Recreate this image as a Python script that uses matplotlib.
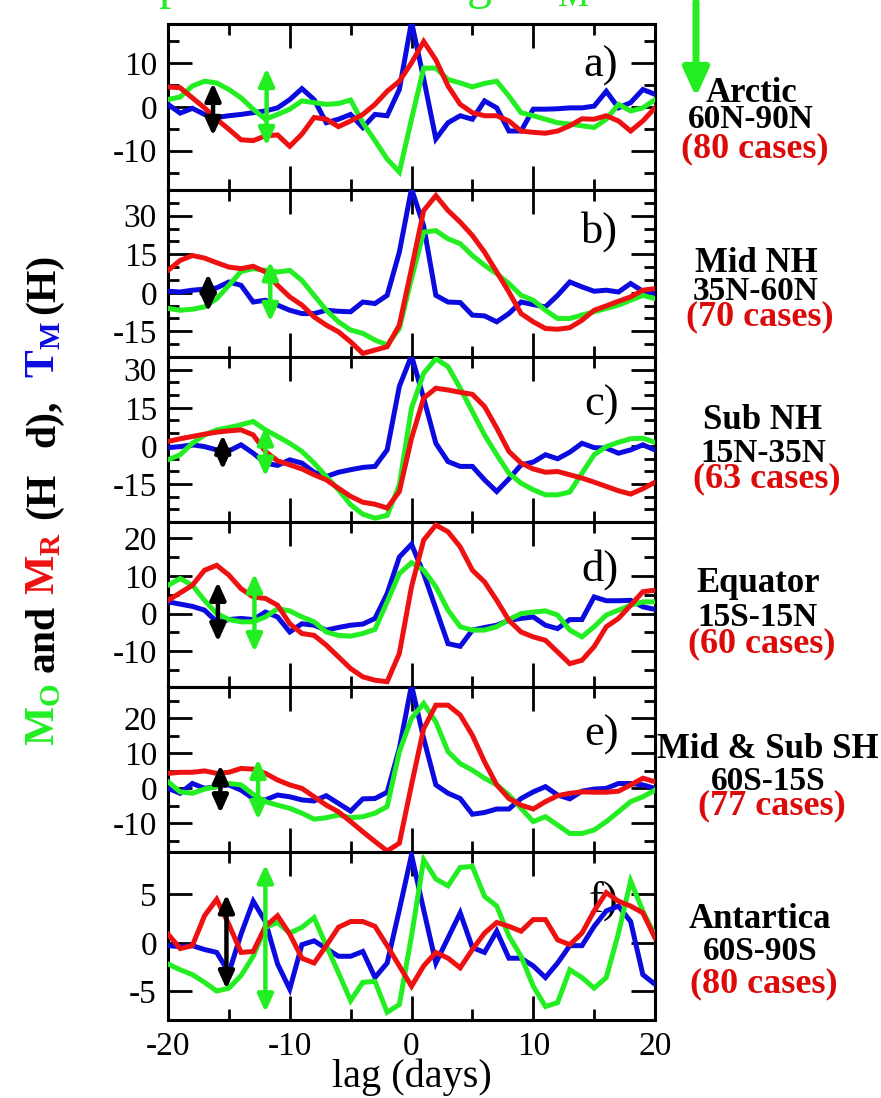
import numpy as np
import matplotlib
matplotlib.use("Agg")
import matplotlib.pyplot as plt
from matplotlib.ticker import MultipleLocator, FixedLocator, NullLocator
from matplotlib.patches import FancyArrowPatch

plt.rcParams["font.family"] = ["Liberation Serif", "DejaVu Serif"]
plt.rcParams["axes.unicode_minus"] = False

# ---------------------------------------------------------------- data
lag = np.arange(-20, 21)

# a) Arctic 60N-90N
arctic_tm = [0.6, -1.4, -0.3, -1.7, -2.4, -2.0, -1.7, -1.3, -0.9, -0.2, 1.7, 4.2, 1.7, -3.6,
             -2.8, -1.7, -4.7, -1.7, -2.0, 4.0, 19.5, 6.5, -7.3, -3.6, -2.0, -2.8, 1.4, -0.2,
             -5.5, -5.5, -0.5, -0.5, -0.4, -0.2, -0.2, 0.2, 3.6, -0.2, 1.0, 4.0, 2.9]
arctic_mo = [1.7, 2.3, 4.8, 5.9, 5.5, 4.0, 2.1, -0.5, -2.8, -1.7, -0.5, 1.4, 1.0, 0.6,
             0.8, 1.6, -3.6, -7.7, -11.9, -14.9, -2.8, 8.9, 8.9, 6.3, 5.5, 4.6, 5.4, 5.9,
             2.5, -1.3, -2.0, -2.8, -3.6, -3.9, -4.3, -4.7, -2.8, 0.6, -0.9, -0.2, 1.7]
arctic_mr = [4.6, 4.4, 2.1, -0.2, -2.8, -5.1, -7.5, -7.7, -6.6, -6.4, -9.0, -6.2, -2.4, -2.8,
             -4.5, -3.2, -1.7, 0.6, 3.6, 5.9, 10.1, 15.0, 10.8, 4.8, 0.6, -1.3, -2.0, -2.0,
             -3.2, -5.5, -5.8, -6.0, -5.5, -4.3, -2.7, -2.8, -2.0, -3.2, -5.5, -3.2, -0.2]

# b) Mid NH 35N-60N
midnh_tm = [0.6, 0.3, 1.0, 1.4, 1.9, 4.2, 2.9, -3.6, -2.9, -4.8, -6.8, -8.1, -8.1, -6.8,
            -7.2, -7.4, -3.6, -4.2, -1.0, 15.8, 40.5, 26.0, -1.0, -3.6, -3.8, -8.7, -9.0, -11.3,
            -8.1, -3.6, -4.6, -5.5, -1.0, 4.2, 2.3, 0.6, 1.0, 0.3, 3.6, 0.6, -0.3]
midnh_mo = [-6.1, -6.8, -6.4, -5.5, -2.3, 2.9, 8.3, 9.4, 8.7, 8.1, 8.7, 4.8, -1.0, -6.8,
            -11.3, -14.5, -15.8, -18.4, -20.3, -13.9, 5.5, 23.6, 24.2, 21.0, 19.1, 14.5, 10.7, 7.4,
            3.6, -1.0, -2.9, -6.8, -10.0, -10.0, -8.7, -7.4, -6.1, -4.8, -2.9, -1.0, -2.3]
midnh_mr = [8.7, 12.6, 14.5, 13.5, 11.7, 10.0, 9.4, 10.3, 8.1, 2.9, -1.6, -4.8, -9.4, -12.6,
            -15.2, -19.1, -23.6, -22.3, -21.0, -12.6, 9.4, 32.0, 37.8, 32.0, 27.5, 22.3, 15.8, 8.1,
            0.3, -8.1, -11.3, -13.9, -14.2, -13.6, -10.7, -6.8, -5.1, -3.3, -1.6, 1.0, 1.6]

# c) Sub NH 15N-35N
subnh_tm = [-0.7, -0.3, 0.4, -0.3, -1.6, -2.0, 0.4, -2.9, -6.8, -7.7, -5.5, -6.8, -10.4, -12.1,
            -10.4, -9.4, -8.5, -8.1, -1.6, 23.4, 35.5, 18.8, 1.0, -6.2, -8.1, -8.1, -13.4, -18.0,
            -13.0, -7.5, -6.4, -3.5, -5.1, -2.5, 1.0, -0.7, -0.9, -2.9, -1.6, 0.4, -1.6]
subnh_mo = [-5.5, -3.5, 1.0, 4.3, 6.3, 7.2, 8.3, 9.6, 6.3, 3.7, 1.0, -2.2, -6.8, -12.1,
            -17.3, -23.2, -26.9, -28.5, -27.4, -15.4, 14.8, 28.6, 34.3, 31.2, 22.7, 13.5, 4.3, -3.5,
            -10.8, -14.7, -17.3, -19.3, -19.3, -18.2, -10.8, -3.5, -0.3, 1.4, 2.8, 3.0, 1.4]
subnh_mr = [1.7, 2.8, 3.7, 4.6, 5.4, 5.9, 6.3, 4.3, -2.2, -5.9, -7.5, -9.1, -11.4, -13.4,
            -16.7, -19.9, -22.2, -23.0, -24.5, -18.0, 3.0, 18.8, 22.7, 22.0, 21.1, 20.3, 15.5, 7.0,
            -2.2, -6.8, -9.1, -10.4, -10.1, -11.4, -12.7, -14.3, -16.0, -17.7, -19.0, -16.9, -14.3]

# d) Equator 15S-15N
equator_tm = [3.1, 2.5, 1.9, 0.9, -2.2, -1.6, -1.3, -1.6, 0.4, -0.9, -4.9, -2.7, -3.1, -4.4,
              -3.7, -3.1, -2.8, -1.3, 5.3, 15.0, 18.4, 10.6, 1.3, -8.0, -8.7, -4.4, -3.7, -3.1,
              -1.8, -1.3, -0.9, -3.1, -4.0, -1.6, -1.6, 4.4, 3.4, 3.4, 3.5, 1.8, 1.1]
equator_mo = [7.5, 9.3, 7.5, 3.5, 0.0, -1.6, -2.2, -2.2, -0.9, 1.3, 0.7, -0.9, -2.2, -4.9,
              -5.8, -6.0, -5.3, -4.2, 3.1, 10.6, 13.5, 11.5, 7.1, 0.9, -3.5, -4.4, -4.4, -3.5,
              -1.6, 0.0, 0.4, 0.7, -0.4, -4.4, -6.2, -3.5, -0.4, 0.9, 2.2, 3.1, 3.1]
equator_mr = [3.5, 5.5, 7.5, 11.5, 12.8, 10.2, 6.6, 4.4, 4.0, 2.2, -2.7, -5.3, -5.8, -8.4,
              -11.5, -14.6, -16.8, -17.7, -18.1, -10.6, 7.1, 19.5, 23.5, 21.7, 17.7, 11.5, 8.4, 3.5,
              -1.8, -4.9, -6.2, -7.1, -10.2, -13.3, -12.4, -8.8, -3.5, -1.3, 2.2, 5.8, 6.2]

# e) Mid & Sub SH 60S-15S
midsh_tm = [0.0, -1.4, 1.4, 0.0, 0.5, 1.0, -0.5, -2.9, -3.3, -1.9, -2.4, -3.3, -3.6, -2.1,
            -4.3, -6.5, -3.0, -2.9, -1.1, 11.4, 29.5, 14.3, 1.0, -1.4, -2.9, -7.4, -6.9, -5.9,
            -5.9, -2.9, -1.0, 0.5, -1.9, -3.0, -0.8, -0.2, 0.0, 1.4, 1.4, 1.0, 0.0]
midsh_mo = [1.9, -1.0, -1.4, -0.2, 0.5, 1.4, 1.0, -1.7, -3.8, -4.8, -5.7, -7.1, -8.8, -8.4,
            -7.6, -8.4, -8.1, -7.1, -5.2, 10.5, 20.0, 24.3, 19.0, 10.5, 7.1, 5.2, 2.9, 1.0,
            -1.9, -5.7, -9.5, -8.1, -10.5, -12.9, -12.9, -11.9, -9.5, -6.7, -3.8, -2.4, -0.5]
midsh_mr = [4.3, 4.6, 4.6, 5.0, 4.3, 4.6, 5.7, 5.5, 4.3, 2.4, 1.0, 0.0, -2.4, -4.8,
            -6.7, -9.5, -12.4, -15.2, -17.9, -15.7, 1.0, 17.1, 23.8, 23.8, 21.0, 15.2, 7.6, 1.0,
            -2.9, -4.8, -5.9, -3.8, -2.1, -1.4, -1.0, -1.1, -1.1, -0.8, 1.0, 2.9, 1.9]

# f) Antartica 60S-90S
antarctic_tm = [-0.3, -0.4, -0.3, -0.7, -1.0, -3.1, 0.9, 4.3, 2.2, -2.2, -4.8, -0.2, 0.2, -0.6,
                -1.4, -1.4, -0.9, -3.6, -2.1, 3.4, 9.1, 3.4, -2.1, 0.5, 3.1, -0.5, -1.0, 1.2,
                -1.6, -1.6, -2.4, -3.6, -2.1, -0.3, -0.3, 1.7, 3.3, 3.8, 2.2, -3.3, -4.3]
antarctic_mo = [-2.2, -2.8, -3.3, -4.1, -5.0, -4.7, -3.4, -1.4, 1.6, 2.1, 1.0, 1.6, 2.6, -0.3,
                -3.1, -6.0, -4.1, -4.0, -7.2, -6.4, 0.7, 8.6, 6.6, 5.9, 7.8, 7.9, 4.8, 3.8,
                0.7, -1.4, -4.5, -6.6, -6.2, -2.8, -3.6, -4.7, -3.6, 1.0, 6.4, 3.3, 0.7]
antarctic_mr = [0.9, -0.6, -0.3, 2.8, 4.5, 1.9, -1.0, -0.9, 1.7, 2.8, 0.9, -1.6, -2.1, -0.3,
                1.6, 2.2, 2.2, 1.7, -0.3, -2.4, -4.5, -2.4, -1.0, -1.6, -2.6, -0.7, 1.0, 2.1,
                1.7, 1.2, 2.4, 2.4, 0.3, -0.2, 1.0, 3.3, 5.2, 4.3, 3.8, 3.1, 0.5]

panel_tags = ["a)", "b)", "c)", "d)", "e)", "f)"]
region_names = ["Arctic", "Mid NH", "Sub NH", "Equator", "Mid & Sub SH", "Antartica"]
region_bands = ["60N-90N", "35N-60N", "15N-35N", "15S-15N", "60S-15S", "60S-90S"]
region_cases = [80, 70, 63, 60, 77, 80]

y_limits = [(-19, 19), (-25, 40), (-30, 35), (-19.5, 24.3), (-18.2, 29), (-8, 9.4)]
y_ticks = [[-10, 0, 10], [-15, 0, 15, 30], [-15, 0, 15, 30],
           [-10, 0, 10, 20], [-10, 0, 10, 20], [-5, 0, 5]]
y_minor_step = [5, 5, 5, 5, 5, None]
x_ticks = [-20, -10, 0, 10, 20]

# spread bars (lag, upper, lower) for T_M (black) and M_O (green)
tm_bar_lag = [-16.3, -16.7, -15.5, -15.9, -15.7, -15.2]
tm_bar_hi = [5.5, 7.4, 4.3, 8.4, 6.7, 5.0]
tm_bar_lo = [-6.6, -7.4, -9.4, -7.5, -7.1, -4.8]
mo_bar_lag = [-11.9, -11.6, -12.0, -12.9, -12.6, -12.0]
mo_bar_hi = [8.9, 12.2, 7.6, 10.6, 8.4, 8.1]
mo_bar_lo = [-8.9, -11.3, -12.1, -10.2, -9.0, -7.2]

tm_series = [arctic_tm, midnh_tm, subnh_tm, equator_tm, midsh_tm, antarctic_tm]
mo_series = [arctic_mo, midnh_mo, subnh_mo, equator_mo, midsh_mo, antarctic_mo]
mr_series = [arctic_mr, midnh_mr, subnh_mr, equator_mr, midsh_mr, antarctic_mr]

# ---------------------------------------------------------------- style
BLUE = "#0b0be0"
GREEN = "#22ee22"
RED = "#ee1111"
CASE_RED = "#dd0a0a"

W, H = 881, 1098
fig = plt.figure(figsize=(W / 100, H / 100), dpi=100)


def fx(px):
    return px / W


def fy(py):
    return 1 - py / H


edges = [24, 190, 357, 522, 687, 852, 1020]
left_px, right_px = 168, 655
label_rows = [(93, 119, 149), (263, 291, 317), (421, 453, 479),
              (584, 617, 644), (750, 782, 806), (919, 952, 984)]
label_cx = [751, 756, 763, 758, 768, 760]

for i in range(6):
    top, bot = edges[i], edges[i + 1]
    ax = fig.add_axes([fx(left_px), fy(bot), fx(right_px - left_px), (bot - top) / H])
    ax.plot(lag, tm_series[i], color=BLUE, lw=3.6, zorder=3, solid_joinstyle="miter")
    ax.plot(lag, mo_series[i], color=GREEN, lw=3.6, zorder=3, solid_joinstyle="miter")
    ax.plot(lag, mr_series[i], color=RED, lw=3.6, zorder=3, solid_joinstyle="miter")

    for xb, hi, lo, col in [(tm_bar_lag[i], tm_bar_hi[i], tm_bar_lo[i], "black"),
                            (mo_bar_lag[i], mo_bar_hi[i], mo_bar_lo[i], GREEN)]:
        ax.annotate("", xy=(xb, hi), xytext=(xb, lo),
                    arrowprops=dict(arrowstyle="<|-|>,head_length=0.8,head_width=0.36",
                                    mutation_scale=13, lw=3.2, color=col,
                                    shrinkA=0, shrinkB=0), zorder=5)

    ax.text(0.925, 0.75 if i < 2 else 0.71, panel_tags[i], transform=ax.transAxes,
            ha="right", va="center", fontsize=32, zorder=1)

    ax.set_xlim(-20, 20)
    ax.set_ylim(*y_limits[i])
    ax.xaxis.set_major_locator(FixedLocator(x_ticks))
    ax.xaxis.set_minor_locator(MultipleLocator(5))
    ax.yaxis.set_major_locator(FixedLocator(y_ticks[i]))
    if y_minor_step[i]:
        ax.yaxis.set_minor_locator(MultipleLocator(y_minor_step[i]))
    else:
        ax.yaxis.set_minor_locator(NullLocator())
    ax.tick_params(which="both", direction="in", top=True, right=True, width=2.0,
                   labelsize=24, pad=8)
    ax.tick_params(which="major", length=17)
    ax.tick_params(which="minor", length=8)
    for s in ax.spines.values():
        s.set_linewidth(2.2)
    if i < 5:
        ax.tick_params(labelbottom=False)
    else:
        ax.set_xlabel("lag (days)", fontsize=29, labelpad=-2)

    r1, r2, r3 = label_rows[i]
    cx = label_cx[i]
    fig.text(fx(cx), fy(r1), region_names[i], ha="center", va="center",
             fontsize=25, fontweight="bold")
    fig.text(fx(cx), fy(r2), region_bands[i], ha="center", va="center",
             fontsize=24, fontweight="bold")
    fig.text(fx(cx + 4), fy(r3), f"({region_cases[i]} cases)", ha="center", va="center",
             fontsize=26, fontweight="bold", color=CASE_RED)

# multi-coloured vertical axis label, read bottom to top
ylabel_parts = [("M$_\\mathregular{O}$", GREEN, 715),
                ("and", "black", 638),
                ("M$_\\mathregular{R}$", RED, 563),
                ("(H", "black", 496),
                ("d),", "black", 423),
                ("T$_\\mathregular{M}$", BLUE, 350),
                ("(H)", "black", 284)]
for text, col, ypx in ylabel_parts:
    fig.text(fx(54), fy(ypx), text, rotation=90, rotation_mode="anchor",
             ha="center", va="baseline", fontsize=30, fontweight="bold", color=col)

# heading running off the top edge
fig.text(fx(32), fy(-2), "Mean precursor of large T$_\\mathregular{M}$", color=GREEN,
         fontsize=36, ha="left", va="baseline")

# downward arrow at the top right
fig.add_artist(FancyArrowPatch((fx(696), fy(2)), (fx(696), fy(97)),
                               transform=fig.transFigure,
                               arrowstyle="-|>,head_length=0.7,head_width=0.32",
                               mutation_scale=24, lw=5, color=GREEN,
                               shrinkA=0, shrinkB=0))

fig.savefig("out.png", dpi=100)
